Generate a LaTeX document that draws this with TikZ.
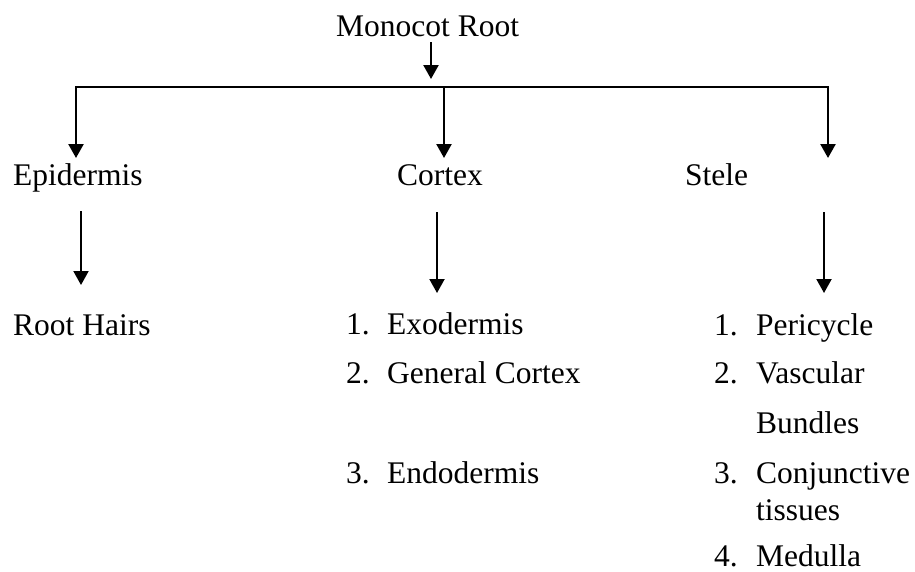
\documentclass[tikz,border=0pt]{standalone}
\usepackage{fontspec}
\setmainfont{Liberation Serif}
\usetikzlibrary{arrows.meta}
\begin{document}
\begin{tikzpicture}[x=1pt,y=-1pt,
  lbl/.style={anchor=base west,inner sep=0pt,font=\fontsize{31.5}{38}\selectfont},
  tip/.tip={Triangle[width=15pt,length=14pt]},
  arr/.style={line width=2.4pt,-tip},
  arrb/.style={line width=2pt,-tip},
  barline/.style={line width=2.4pt,line join=miter}]
\useasboundingbox (0,0) rectangle (915,571);
% labels
\node[lbl] (root) at (336,36) {Monocot Root};
\node[lbl] (epi) at (13,185) {Epidermis};
\node[lbl] (cor) at (397,185) {Cortex};
\node[lbl] (ste) at (685,185) {Stele};
\node[lbl] (hairs) at (13,335) {Root Hairs};
% cortex list
\node[lbl] (c1n) at (346,334) {1.};
\node[lbl] (c1) at (387,334) {Exodermis};
\node[lbl] (c2n) at (346,383) {2.};
\node[lbl] (c2) at (387,383) {General Cortex};
\node[lbl] (c3n) at (346,483) {3.};
\node[lbl] (c3) at (387,483) {Endodermis};
% stele list
\node[lbl] (s1n) at (714,335) {1.};
\node[lbl] (s1) at (756,335) {Pericycle};
\node[lbl] (s2n) at (714,383) {2.};
\node[lbl] (s2) at (756,383) {Vascular};
\node[lbl] (s2b) at (756,433) {Bundles};
\node[lbl] (s3n) at (714,483) {3.};
\node[lbl] (s3) at (756,483) {Conjunctive};
\node[lbl] (s3b) at (756,520) {tissues};
\node[lbl] (s4n) at (714,566) {4.};
\node[lbl] (s4) at (756,566) {Medulla};
% connector points
\coordinate (rootout) at (431,42);
\coordinate (rootin) at (431,79);
\coordinate (barL) at (76,87);
\coordinate (barM) at (444,87);
\coordinate (barR) at (828,87);
\coordinate (epiin) at (76,158);
\coordinate (corin) at (444,158);
\coordinate (stein) at (828,158);
\coordinate (epiout) at (81,211);
\coordinate (hairsin) at (81,285);
\coordinate (corout) at (437,212);
\coordinate (c1in) at (437,293);
\coordinate (steout) at (824,212);
\coordinate (s1in) at (824,293);
% connectors
\draw[arr] (rootout) -- (rootin);
\draw[barline,tip-tip] (epiin) -- (barL) -- (barR) -- (stein);
\draw[arr] (barM) -- (corin);
\draw[arrb] (epiout) -- (hairsin);
\draw[arrb] (corout) -- (c1in);
\draw[arrb] (steout) -- (s1in);
\end{tikzpicture}
\end{document}
